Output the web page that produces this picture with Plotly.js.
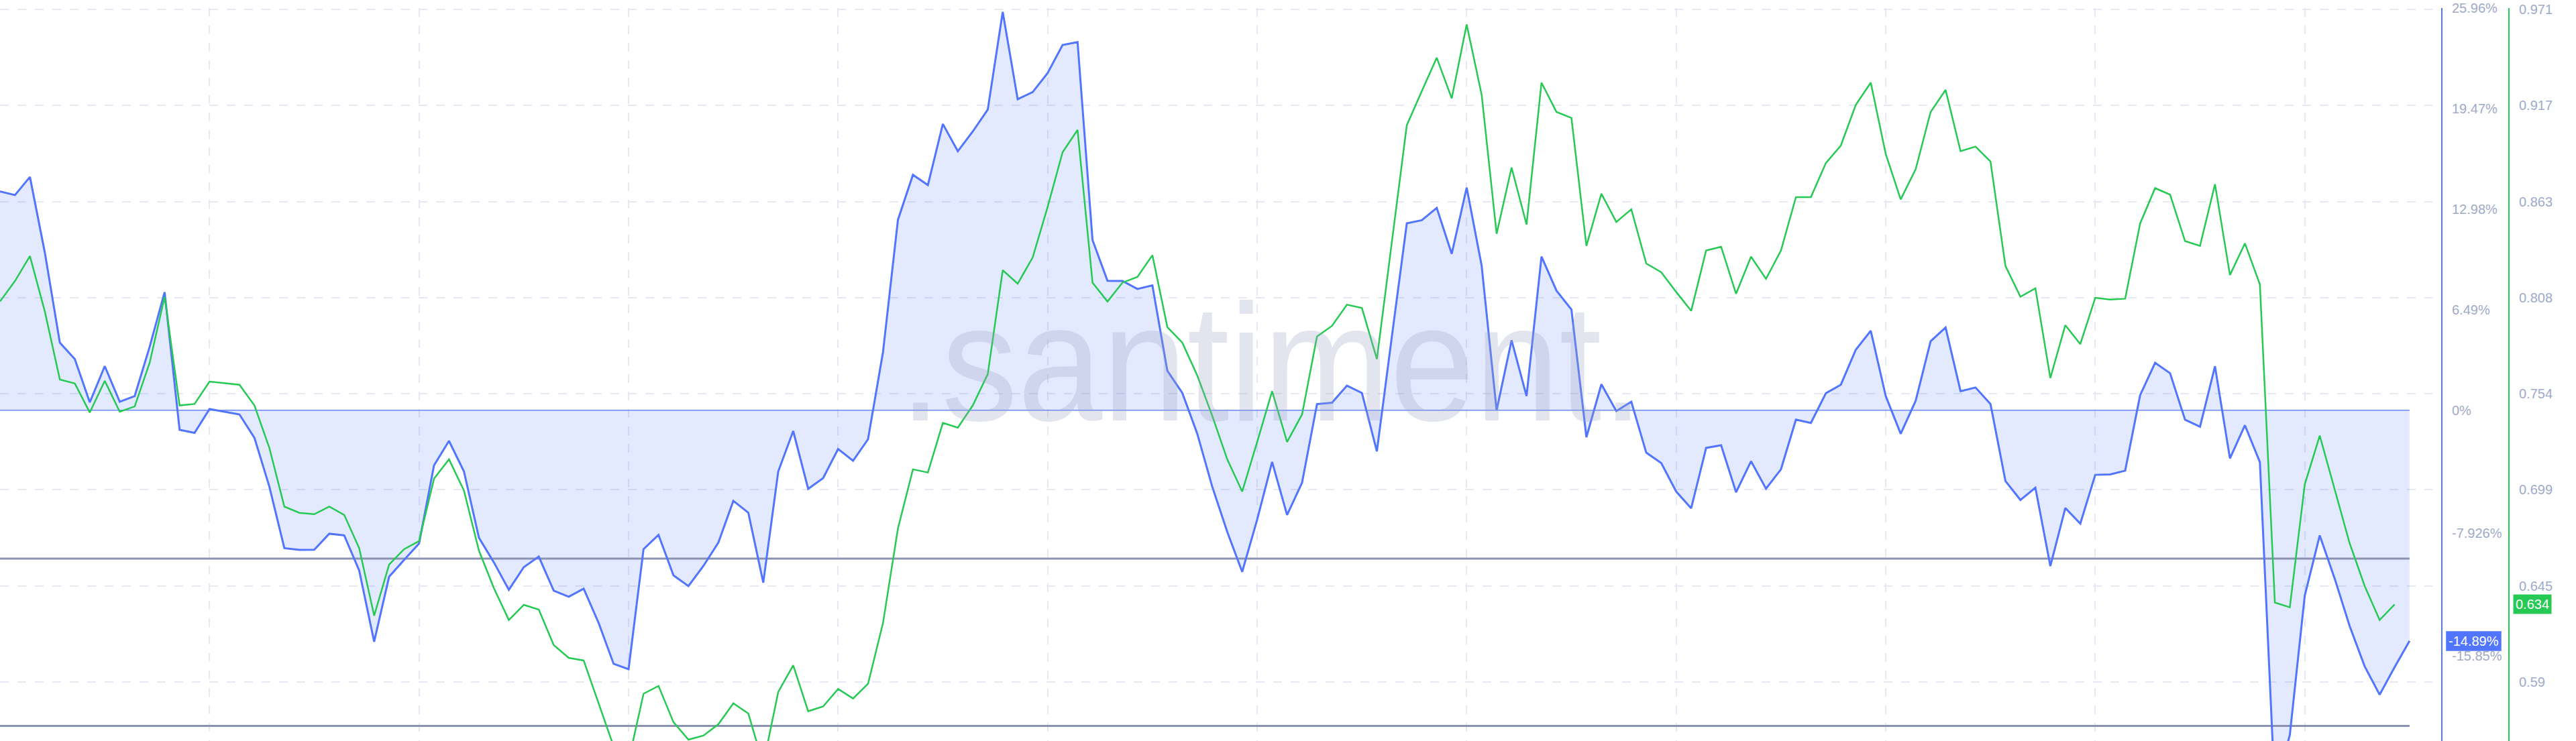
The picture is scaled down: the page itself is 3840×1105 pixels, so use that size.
<!DOCTYPE html>
<html>
<head>
<meta charset="utf-8">
<script src="https://cdn.plot.ly/plotly-3.0.1.min.js"></script>
<style>html,body{margin:0;padding:0;background:#fff;}#chart{width:3840px;height:1105px;}</style>
</head>
<body>
<div id="chart"></div>
<script>
// Blue series: price change, %
const blueChange = [14.13, 13.89, 15.06, 10.16, 4.36, 3.30, 0.51, 2.85, 0.55, 0.92,
  4.10, 7.63, -1.26, -1.46, 0.08, -0.10, -0.27, -1.78, -4.94, -8.90,
  -9.01, -9.00, -7.97, -8.08, -10.34, -14.94, -10.74, -9.66, -8.60, -3.56,
  -1.98, -3.95, -8.23, -9.82, -11.59, -10.13, -9.45, -11.65, -12.04, -11.52,
  -13.73, -16.37, -16.72, -8.97, -8.05, -10.66, -11.35, -10.05, -8.54, -5.85,
  -6.61, -11.13, -3.95, -1.34, -5.07, -4.38, -2.50, -3.26, -1.87, 3.76,
  12.30, 15.20, 14.54, 18.48, 16.72, 18.00, 19.41, 25.72, 20.08, 20.54,
  21.77, 23.58, 23.77, 10.99, 8.36, 8.35, 7.83, 8.06, 2.55, 1.12,
  -1.52, -4.94, -7.84, -10.43, -7.06, -3.34, -6.76, -4.68, 0.40, 0.49,
  1.59, 1.12, -2.65, 4.75, 12.07, 12.27, 13.06, 10.10, 14.37, 9.34,
  0.00, 4.52, 0.92, 9.92, 7.72, 6.50, -1.74, 1.68, -0.05, 0.55,
  -2.74, -3.41, -5.25, -6.33, -2.43, -2.26, -5.29, -3.29, -5.06, -3.81,
  -0.61, -0.82, 1.10, 1.65, 3.91, 5.13, 0.92, -1.52, 0.61, 4.46,
  5.34, 1.23, 1.47, 0.40, -4.57, -5.79, -5.00, -10.06, -6.31, -7.32,
  -4.17, -4.14, -3.90, 0.98, 3.06, 2.39, -0.61, -1.06, 2.84, -3.11,
  -0.97, -3.35, -24.6, -20.96, -11.96, -8.08, -10.87, -13.94, -16.53, -18.36,
  -16.59, -14.89];

// Green series: price
const greenPrice = [0.8055, 0.8171, 0.8312, 0.7997, 0.7613, 0.7591, 0.7427, 0.7606, 0.7431, 0.7461,
  0.7708, 0.8082, 0.7467, 0.7475, 0.7602, 0.7594, 0.7584, 0.7467, 0.7226, 0.6894,
  0.6859, 0.6851, 0.6894, 0.6847, 0.6659, 0.6277, 0.6566, 0.6653, 0.6699, 0.7052,
  0.7162, 0.6985, 0.6645, 0.6433, 0.6252, 0.6338, 0.6311, 0.6110, 0.6038, 0.6023,
  0.5776, 0.5537, 0.5454, 0.5835, 0.5879, 0.5674, 0.5575, 0.5598, 0.5662, 0.5781,
  0.5723, 0.5435, 0.5845, 0.5996, 0.5736, 0.5763, 0.5862, 0.5808, 0.5891, 0.6235,
  0.6771, 0.7105, 0.7087, 0.7368, 0.7341, 0.7467, 0.7644, 0.8232, 0.8156, 0.8304,
  0.8590, 0.8900, 0.9026, 0.8162, 0.8055, 0.8162, 0.8194, 0.8317, 0.7910, 0.7822,
  0.7636, 0.7408, 0.7162, 0.6979, 0.7260, 0.7547, 0.7260, 0.7416, 0.7857, 0.7917,
  0.8037, 0.8018, 0.7729, 0.8395, 0.9053, 0.9245, 0.9435, 0.9205, 0.9623, 0.9226,
  0.8438, 0.8813, 0.8491, 0.9294, 0.9128, 0.9094, 0.8370, 0.8665, 0.8505, 0.8577,
  0.8270, 0.8221, 0.8109, 0.8002, 0.8344, 0.8365, 0.8099, 0.8309, 0.8183, 0.8344,
  0.8646, 0.8646, 0.8839, 0.8938, 0.9168, 0.9294, 0.8890, 0.8633, 0.8804, 0.9128,
  0.9253, 0.8906, 0.8932, 0.8847, 0.8256, 0.8082, 0.8130, 0.7622, 0.7921, 0.7814,
  0.8076, 0.8066, 0.8071, 0.8497, 0.8697, 0.8660, 0.8397, 0.8370, 0.8719, 0.8205,
  0.8384, 0.8152, 0.6351, 0.6324, 0.7020, 0.7296, 0.6993, 0.6686, 0.6445, 0.6252,
  0.634];

// Horizontal reference levels (in % of the blue axis)
const refLevels = [-9.58, -20.38];

// Tick labels
const blueTickVals = [25.96, 19.47, 12.98, 6.49, 0, -7.926, -15.85];
const blueTickText = ['25.96%', '19.47%', '12.98%', '6.49%', '0%', '-7.926%', '-15.85%'];
const greenTickVals = [0.971, 0.9166, 0.8621, 0.8077, 0.7533, 0.6989, 0.6444, 0.59];
const greenTickText = ['0.971', '0.917', '0.863', '0.808', '0.754', '0.699', '0.645', '0.59'];

const BLUE = '#5275ff', GREEN = '#26c953';
const blueX = blueChange.map((_, i) => i);
const greenX = greenPrice.map((_, i) => i);
const lastIdx = blueX[blueX.length - 1];

const traces = [
  { x: blueX, y: blueChange, yaxis: 'y', type: 'scatter', mode: 'lines', fill: 'tozeroy',
    fillcolor: 'rgba(82,117,255,0.16)', line: { width: 0, color: BLUE }, hoverinfo: 'skip' },
  { x: [0, lastIdx], y: [0, 0], yaxis: 'y', type: 'scatter', mode: 'lines',
    line: { width: 1.5, color: 'rgba(82,117,255,0.85)' }, hoverinfo: 'skip' }
];
refLevels.forEach(v => traces.push({ x: [0, lastIdx], y: [v, v], yaxis: 'y', type: 'scatter', mode: 'lines',
  line: { width: 3, color: '#8a92b2' }, hoverinfo: 'skip' }));
traces.push({ x: blueX, y: blueChange, yaxis: 'y', type: 'scatter', mode: 'lines',
  line: { width: 3, color: BLUE } });
traces.push({ x: greenX, y: greenPrice, yaxis: 'y2', type: 'scatter', mode: 'lines',
  line: { width: 2.5, color: GREEN } });

const tickFont = { family: 'Liberation Sans, Arial, sans-serif', size: 20, color: '#a0aac8' };
const gridColor = '#e6e9f3';

const layout = {
  width: 3840, height: 1105,
  margin: { l: 0, r: 0, t: 12, b: 0, pad: 0 },
  paper_bgcolor: '#ffffff', plot_bgcolor: 'rgba(0,0,0,0)',
  showlegend: false,
  xaxis: { domain: [0, 3626 / 3840], range: [0, 162.53], showticklabels: false, ticks: '',
    showgrid: true, gridcolor: gridColor, gridwidth: 2, griddash: '13px,13px',
    tick0: 0, dtick: 14, zeroline: false, showline: false },
  yaxis: { side: 'right', anchor: 'free', position: 3640 / 3840, range: [-21.351, 25.965],
    tickmode: 'array', tickvals: blueTickVals, ticktext: blueTickText, ticks: '',
    showgrid: false, zeroline: false, showline: true, linecolor: BLUE, linewidth: 2,
    ticklabelstandoff: 10, tickfont: tickFont },
  yaxis2: { overlaying: 'y', side: 'right', anchor: 'free', position: 3740 / 3840, range: [0.55673, 0.97161],
    tickmode: 'array', tickvals: greenTickVals, ticktext: greenTickText, ticks: '',
    showgrid: true, gridcolor: gridColor, gridwidth: 2, griddash: '13px,13px',
    zeroline: false, showline: true, linecolor: GREEN, linewidth: 2,
    ticklabelstandoff: 10, tickfont: tickFont },
  annotations: [
    { xref: 'paper', yref: 'paper', x: 1895 / 3840, y: 0.516, xanchor: 'center', yanchor: 'middle',
      text: '.santiment.', showarrow: false,
      font: { family: 'Liberation Sans, Arial, sans-serif', size: 248, color: 'rgba(150,160,192,0.28)' } },
    { xref: 'paper', yref: 'y', x: 3646 / 3840, y: blueChange[blueChange.length - 1], xanchor: 'left', yanchor: 'middle',
      text: blueChange[blueChange.length - 1].toFixed(2) + '%', showarrow: false, bgcolor: BLUE,
      bordercolor: '#7d97ff', borderwidth: 1, borderpad: 3,
      font: { family: 'Liberation Sans, Arial, sans-serif', size: 20, color: '#ffffff' } },
    { xref: 'paper', yref: 'y2', x: 3746 / 3840, y: greenPrice[greenPrice.length - 1], xanchor: 'left', yanchor: 'middle',
      text: greenPrice[greenPrice.length - 1].toFixed(3), showarrow: false, bgcolor: GREEN,
      borderpad: 3, font: { family: 'Liberation Sans, Arial, sans-serif', size: 20, color: '#ffffff' } }
  ]
};

Plotly.newPlot('chart', traces, layout, { staticPlot: true, displayModeBar: false }).then(gd => {
  // condense the watermark text horizontally (narrow logo lettering)
  const t = gd.querySelector('.annotation .annotation-text');
  if (t) {
    const bb = t.getBBox();
    const cx = bb.x + bb.width / 2;
    const s = 1110 / bb.width;
    t.setAttribute('transform', `translate(${cx},0) scale(${s},1) translate(${-cx},0)`);
  }
});
</script>
</body>
</html>
